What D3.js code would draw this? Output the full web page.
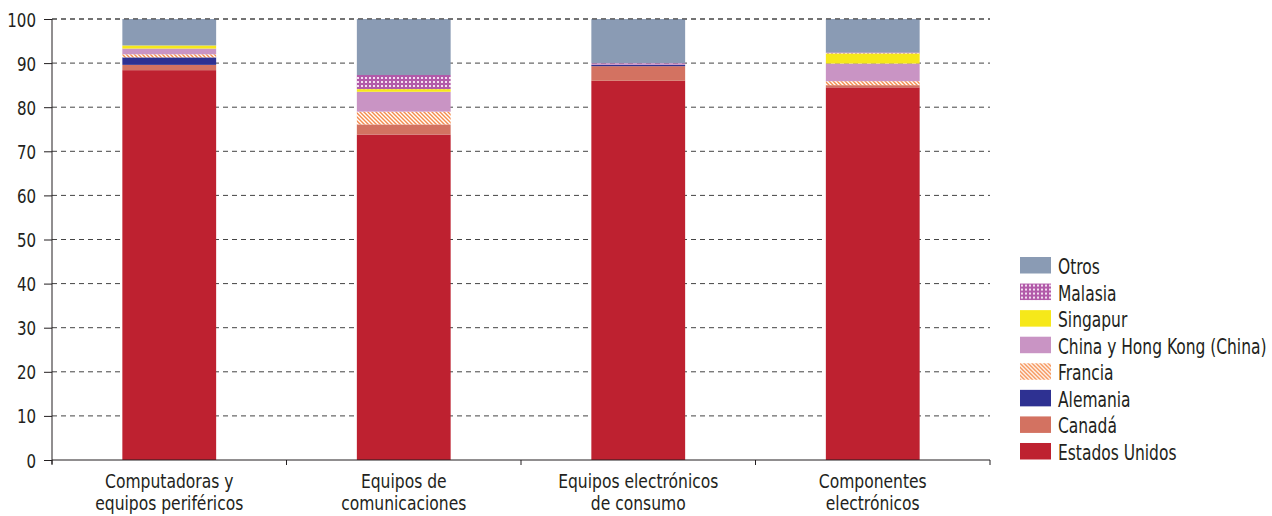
<!DOCTYPE html>
<html><head><meta charset="utf-8">
<script src="https://cdn.jsdelivr.net/npm/d3@7"></script>
<style>
body{margin:0;background:#fff;}
text{font-family:"DejaVu Sans Condensed","Liberation Sans Narrow",sans-serif;fill:#231f20;}
</style></head>
<body><svg id="c" width="1272" height="516"></svg>
<script>
const categories = [["Computadoras y","equipos periféricos"],["Equipos de","comunicaciones"],["Equipos electrónicos","de consumo"],["Componentes","electrónicos"]];
const seriesNames = ["Estados Unidos","Canadá","Alemania","Francia","China y Hong Kong (China)","Singapur","Malasia","Otros"];
const estadosUnidos = [88.4, 73.8, 86.0, 84.5];
const canada        = [1.2, 2.3, 3.3, 0.5];
const alemania      = [1.7, 0.0, 0.3, 0.0];
const francia       = [0.7, 2.9, 0.0, 0.9];
const china         = [1.3, 4.5, 0.3, 4.0];
const singapur      = [0.7, 0.6, 0.0, 2.3];
const malasia       = [0.0, 3.2, 0.1, 0.2];
const otros         = [6.0, 12.7, 10.0, 7.6];
const yTicks = [0,10,20,30,40,50,60,70,80,90,100];

const seriesValues = [estadosUnidos, canada, alemania, francia, china, singapur, malasia, otros];
const fills = ["#be2130","#d37261","#2e3192","url(#hatch)","#c994c4","#f6e81a","url(#grid)","#8a9bb4"];

const svg = d3.select("#c");
const defs = svg.append("defs");
const hp = defs.append("pattern").attr("id","hatch").attr("patternUnits","userSpaceOnUse").attr("width",4).attr("height",4);
hp.append("rect").attr("width",4).attr("height",4).attr("fill","#fff");
hp.append("path").attr("d","M-1,-1 L5,5 M-1,3 L1,5 M3,-1 L5,1").attr("stroke","#f58b4c").attr("stroke-width",1.4);
const gp = defs.append("pattern").attr("id","grid").attr("patternUnits","userSpaceOnUse").attr("width",4).attr("height",4);
gp.append("rect").attr("width",4).attr("height",4).attr("fill","#b25aa9");
gp.append("rect").attr("x",1).attr("y",1).attr("width",2).attr("height",2).attr("fill","#f3dff0");

const mLeft = 52, mRight = 990, mTop = 19, mBottom = 460;
const x = d3.scaleBand().domain(d3.range(categories.length)).range([mLeft, mRight]).padding(0);
const y = d3.scaleLinear().domain([0,100]).range([mBottom, mTop]);

// gridlines
svg.append("g").selectAll("line").data(yTicks.filter(d=>d>0)).join("line")
  .attr("x1",mLeft).attr("x2",mRight).attr("y1",d=>y(d)).attr("y2",d=>y(d))
  .attr("stroke","#444").attr("stroke-width",1).attr("stroke-dasharray","5,4");

// bars
const table = categories.map((c,i)=>{const o={i}; seriesNames.forEach((s,k)=>o[s]=seriesValues[k][i]); return o;});
const stack = d3.stack().keys(seriesNames)(table);
const bw = x.bandwidth()*0.4;
svg.append("g").selectAll("g").data(stack).join("g")
  .attr("fill",(d,k)=>fills[k])
  .selectAll("rect").data(d=>d).join("rect")
  .attr("x",d=>x(d.data.i)+(x.bandwidth()-bw)/2)
  .attr("width",bw)
  .attr("y",d=>y(d[1]))
  .attr("height",d=>Math.max(0,y(d[0])-y(d[1])));

// top gridline over bars
svg.append("line").attr("x1",mLeft).attr("x2",mRight).attr("y1",y(100)).attr("y2",y(100))
  .attr("stroke","#444").attr("stroke-dasharray","5,4");

// y axis
const ya = svg.append("g").attr("transform",`translate(${mLeft},0)`)
  .call(d3.axisLeft(y).tickValues(yTicks).tickSize(8).tickPadding(8));
ya.select(".domain").attr("d",`M0,${mTop}V${mBottom+4}`).attr("stroke","#231f20");
ya.selectAll(".tick line").attr("stroke","#231f20");
ya.selectAll(".tick text").attr("font-size",19).attr("font-family",null).attr("fill","#231f20")
  .attr("x",0).attr("dy",null).attr("transform","translate(-16,7) scale(0.88,1)");

// x axis
svg.append("line").attr("x1",mLeft).attr("x2",mRight).attr("y1",mBottom).attr("y2",mBottom).attr("stroke","#231f20");
const bounds = d3.range(categories.length+1).map(i=> i<categories.length ? x(i) : x(i-1)+x.bandwidth());
svg.append("g").selectAll("line").data(bounds).join("line")
  .attr("x1",d=>d).attr("x2",d=>d).attr("y1",mBottom).attr("y2",mBottom+5).attr("stroke","#231f20");
const xl = svg.append("g").selectAll("text").data(categories).join("text")
  .attr("transform",(d,i)=>`translate(${x(i)+x.bandwidth()/2},488) scale(0.91,1)`)
  .attr("text-anchor","middle").attr("font-size",19);
xl.selectAll("tspan").data(d=>d).join("tspan")
  .attr("x",0).attr("dy",(d,j)=>j===0?0:22).text(d=>d);

// legend
const legOrder = d3.range(seriesNames.length).reverse();
const lg = svg.append("g").selectAll("g").data(legOrder).join("g")
  .attr("transform",(k,r)=>`translate(1020,${257+r*26.57})`);
lg.append("rect").attr("width",31).attr("height",16.5).attr("fill",k=>fills[k]);
lg.append("text").attr("transform","translate(38,17) scale(0.82,1)").attr("font-size",21).text(k=>seriesNames[k]);
</script></body></html>
